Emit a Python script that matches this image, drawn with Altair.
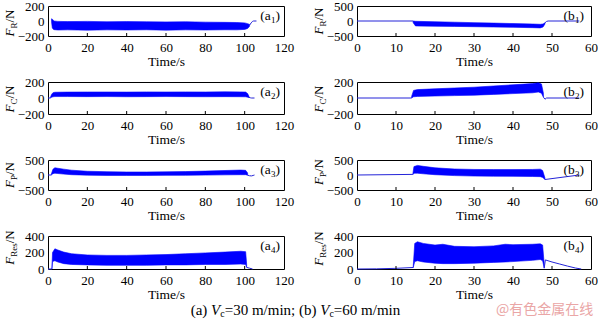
import altair as alt
import pandas as pd

# ---------------- axis tick values ----------------
X_TICKS_A = [0, 20, 40, 60, 80, 100, 120]
X_TICKS_B = [0, 10, 20, 30, 40, 50, 60]
Y_TICKS_200 = [-200, 0, 200]
Y_TICKS_500 = [-500, 0, 500]
Y_TICKS_400 = [0, 200, 400]

# ---------------- (a) Vc = 30 m/min ----------------
# a1: F_R
A1_BAND_T = [1.8, 2.2, 3.0, 5, 10, 20, 30, 40, 50, 60, 70, 80, 90, 96, 100, 101.5, 102.5]
A1_BAND_HI = [30, 25, 0, -5, -8, -5, -10, -8, -10, -12, -10, -15, -18, -20, -25, -35, -45]
A1_BAND_LO = [-10, -95, -115, -120, -118, -122, -118, -120, -117, -122, -118, -120, -117, -118, -112, -100, -70]
A1_LINE_T = [102.5, 103.3, 104, 104.5, 106]
A1_LINE_V = [-55, -25, -5, 0, 0]
A1_LINE_S = [1, 1, 1, 1, 1]

# a2: F_C
A2_BAND_T = [1.2, 1.8, 2.5, 3.5, 10, 20, 30, 40, 50, 60, 70, 80, 90, 98, 100.5, 101.5, 102.2]
A2_BAND_HI = [5, 45, 65, 72, 74, 75, 75, 74, 76, 75, 76, 75, 77, 76, 74, 55, 20]
A2_BAND_LO = [0, 8, 15, 18, 18, 17, 18, 16, 17, 18, 17, 16, 17, 16, 15, 10, 5]
A2_LINE_T = [0, 1.2, 102.2, 103, 103.5, 105]
A2_LINE_V = [0, 0, 8, 2, 0, 0]
A2_LINE_S = [0, 0, 1, 1, 1, 1]

# a3: F_P
A3_BAND_T = [1.7, 2.5, 3.5, 5, 8, 12, 20, 30, 40, 50, 60, 70, 80, 90, 98, 100.5, 101.5]
A3_BAND_HI = [30, 190, 240, 225, 195, 160, 125, 110, 100, 100, 105, 115, 130, 150, 165, 155, 70]
A3_BAND_LO = [0, 45, 60, 50, 30, 10, -5, -15, -15, -15, -12, -10, -3, 5, 10, 10, -10]
A3_LINE_T = [0, 1.7, 101.5, 102.5, 103.5, 104.3, 105]
A3_LINE_V = [0, 0, -5, -25, -30, -15, 0]
A3_LINE_S = [0, 0, 1, 1, 1, 1, 1]

# a4: F_Res
A4_BAND_T = [2.0, 2.3, 3.5, 5, 8, 12, 20, 30, 40, 50, 60, 70, 80, 90, 98, 100.5, 101]
A4_BAND_HI = [10, 200, 245, 230, 205, 185, 170, 165, 165, 170, 175, 185, 195, 205, 215, 210, 60]
A4_BAND_LO = [0, 90, 100, 85, 65, 55, 50, 45, 45, 45, 50, 50, 55, 55, 60, 55, 20]
A4_LINE_T = [0, 2.0, 101, 102.5, 104]
A4_LINE_V = [0, 0, 20, 10, 0]
A4_LINE_S = [0, 0, 1, 1, 1]

# ---------------- (b) Vc = 60 m/min ----------------
# b1: F_R
B1_BAND_T = [14.4, 15, 20, 25, 30, 35, 40, 45, 47, 47.7, 48.2]
B1_BAND_HI = [0, -10, -25, -40, -55, -70, -85, -100, -110, -100, -60]
B1_BAND_LO = [-60, -165, -175, -180, -190, -200, -210, -222, -230, -200, -100]
B1_LINE_T = [0, 14.4, 48.2, 48.6, 49, 57]
B1_LINE_V = [0, 0, -60, -15, 0, 0]
B1_LINE_S = [0, 0, 1, 1, 1, 1]

# b2: F_C
B2_BAND_T = [14, 14.5, 15.5, 20, 25, 30, 35, 40, 45, 46.5, 47.3, 47.8]
B2_BAND_HI = [20, 95, 105, 115, 125, 135, 150, 165, 180, 190, 175, 60]
B2_BAND_LO = [0, 15, 20, 25, 30, 35, 45, 55, 65, 75, 60, 10]
B2_LINE_T = [0, 14, 47.8, 48.2, 48.6, 57]
B2_LINE_V = [0, 0, 10, -15, 0, 0]
B2_LINE_S = [0, 0, 1, 1, 1, 1]

# b3: F_P
B3_BAND_T = [14.3, 14.6, 15.5, 17, 20, 25, 30, 35, 40, 45, 47, 47.6, 48.2]
B3_BAND_HI = [20, 280, 320, 290, 240, 200, 185, 180, 180, 185, 195, 150, -100]
B3_BAND_LO = [10, 60, 60, 40, 10, -20, -35, -40, -45, -50, -55, -80, -150]
B3_LINE_T = [0, 14.3, 48.2, 57]
B3_LINE_V = [0, 20, -150, 0]
B3_LINE_S = [0, 0, 1, 1]

# b4: F_Res
B4_BAND_T = [14.4, 14.8, 15.5, 17, 20, 22, 25, 30, 35, 38, 40, 45, 47, 47.6, 48]
B4_BAND_HI = [20, 310, 330, 310, 290, 300, 275, 270, 280, 300, 295, 300, 305, 290, 60]
B4_BAND_LO = [15, 90, 100, 85, 70, 65, 65, 70, 80, 85, 90, 105, 115, 100, 10]
B4_LINE_T = [0, 5, 10, 14.4, 48, 48.3, 50, 52, 54, 56, 57.5]
B4_LINE_V = [0, 2, 8, 18, 10, 110, 85, 60, 35, 12, 0]
B4_LINE_S = [0, 0, 0, 0, 1, 1, 1, 1, 1, 1, 1]

FONT = "Liberation Serif"
BLUE = "#0000ff"
LINE_BLUE = "#2424d8"
W_A, W_B = 236, 234
HEIGHTS = [30, 32, 30, 33]

ONE = pd.DataFrame({"k": [0]})


def txt(text, x, y, size=13, style="normal", align="left", angle=0, dx=0, dy=0,
        baseline="alphabetic", color="black", font=FONT):
    kw = dict(text=text, font=font, fontSize=size, fontStyle=style, align=align,
              baseline=baseline, color=color)
    if angle:
        kw["angle"] = angle
    if dx:
        kw["dx"] = dx
    if dy:
        kw["dy"] = dy
    return alt.Chart(ONE).mark_text(**kw).encode(x=alt.value(x), y=alt.value(y))


def panel(bt, bh, bl, lt, lv, ls, xdom, xticks, ydom, yticks, w, h,
          sub, sub_w, letter, num, lab_right, title_off, extra=()):
    xs = alt.Scale(domain=xdom, nice=False, zero=False)
    ys = alt.Scale(domain=ydom, nice=False, zero=False)
    xax = alt.Axis(values=xticks, title="Time/s", grid=False, ticks=False, domain=False,
                   labelPadding=5, titlePadding=0, labelFlush=False, labelOverlap=False)
    yax = alt.Axis(values=yticks, title=None, grid=False, ticks=False, domain=False,
                   labelPadding=4, labelOverlap=False)
    band = alt.Chart(pd.DataFrame({"t": bt, "hi": bh, "lo": bl})).mark_area(
        color=BLUE, stroke=BLUE, strokeWidth=0.6, opacity=1
    ).encode(x=alt.X("t:Q", scale=xs, axis=xax),
             y=alt.Y("hi:Q", scale=ys, axis=yax),
             y2=alt.Y2("lo"))
    line = alt.Chart(pd.DataFrame({"t": lt, "v": lv, "s": ls})).mark_line(
        color=LINE_BLUE, strokeWidth=1
    ).encode(x=alt.X("t:Q", scale=xs, axis=xax),
             y=alt.Y("v:Q", scale=ys, axis=yax),
             detail="s:N")
    ticks = alt.Chart(pd.DataFrame({"t": xticks[1:-1]})).mark_rule(
        color="black", strokeWidth=1
    ).encode(x=alt.X("t:Q", scale=xs, axis=xax), y=alt.value(h), y2=alt.value(h - 3))

    wF, wN = 7.9, 13.0
    total = wF + sub_w + wN
    yb = h / 2 + total / 2 + title_off
    tx = -34
    ytitle = [
        txt("F", tx, yb, style="italic", angle=270),
        txt(sub, tx, yb, size=9, angle=270, dx=wF, dy=2.5),
        txt("/N", tx, yb, angle=270, dx=wF + sub_w),
    ]
    rx = w - lab_right
    label = [
        txt(")", rx, 10, size=13.5, align="right", baseline="middle"),
        txt(num, rx - 4.5, 10, size=9, align="right", baseline="middle", dy=3.5),
        txt("(" + letter, rx - 9.2, 10, size=13.5, align="right", baseline="middle"),
    ]
    layers = [band, line, ticks] + ytitle + label + list(extra)
    return alt.layer(*layers).properties(width=w, height=h)


# caption pieces (left-bottom panel), watermark (right-bottom panel)
CAP_Y = 74
CS = 15            # caption font size
SS = 10            # subscript size
x0 = 142.7
w_a = 1.36 * CS
w_V = 0.611 * CS
w_c = 0.444 * SS
w_mid = 6.37 * CS
caption = [
    txt("(a) ", x0, CAP_Y, size=CS, baseline="middle"),
    txt("V", x0 + w_a, CAP_Y, size=CS, style="italic", baseline="middle"),
    txt("c", x0 + w_a + w_V, CAP_Y, size=SS, baseline="middle", dy=3.5),
    txt("=30 m/min; (b) ", x0 + w_a + w_V + w_c, CAP_Y, size=CS, baseline="middle"),
    txt("V", x0 + w_a + w_V + w_c + w_mid, CAP_Y, size=CS, style="italic", baseline="middle"),
    txt("c", x0 + w_a + 2 * w_V + w_c + w_mid, CAP_Y, size=SS, baseline="middle", dy=3.5),
    txt("=60 m/min", x0 + w_a + 2 * w_V + 2 * w_c + w_mid, CAP_Y, size=CS, baseline="middle"),
]
watermark = [
    txt("@有色金属在线", 139, CAP_Y, size=14, baseline="middle", color="#eaa6a6",
        font="Noto Sans CJK SC"),
]

a1 = panel(A1_BAND_T, A1_BAND_HI, A1_BAND_LO, A1_LINE_T, A1_LINE_V, A1_LINE_S,
           [0, 120], X_TICKS_A, [-200, 200], Y_TICKS_200, W_A, HEIGHTS[0],
           "R", 6.0, "a", "1", 4, 2)
b1 = panel(B1_BAND_T, B1_BAND_HI, B1_BAND_LO, B1_LINE_T, B1_LINE_V, B1_LINE_S,
           [0, 60], X_TICKS_B, [-500, 500], Y_TICKS_500, W_B, HEIGHTS[0],
           "R", 6.0, "b", "1", 7, 0)
a2 = panel(A2_BAND_T, A2_BAND_HI, A2_BAND_LO, A2_LINE_T, A2_LINE_V, A2_LINE_S,
           [0, 120], X_TICKS_A, [-200, 200], Y_TICKS_200, W_A, HEIGHTS[1],
           "C", 6.0, "a", "2", 4, 1)
b2 = panel(B2_BAND_T, B2_BAND_HI, B2_BAND_LO, B2_LINE_T, B2_LINE_V, B2_LINE_S,
           [0, 60], X_TICKS_B, [-200, 200], Y_TICKS_200, W_B, HEIGHTS[1],
           "C", 6.0, "b", "2", 7, 1)
a3 = panel(A3_BAND_T, A3_BAND_HI, A3_BAND_LO, A3_LINE_T, A3_LINE_V, A3_LINE_S,
           [0, 120], X_TICKS_A, [-500, 500], Y_TICKS_500, W_A, HEIGHTS[2],
           "P", 5.0, "a", "3", 4, 0)
b3 = panel(B3_BAND_T, B3_BAND_HI, B3_BAND_LO, B3_LINE_T, B3_LINE_V, B3_LINE_S,
           [0, 60], X_TICKS_B, [-500, 500], Y_TICKS_500, W_B, HEIGHTS[2],
           "P", 5.0, "b", "3", 7, -3)
a4 = panel(A4_BAND_T, A4_BAND_HI, A4_BAND_LO, A4_LINE_T, A4_LINE_V, A4_LINE_S,
           [0, 120], X_TICKS_A, [0, 400], Y_TICKS_400, W_A, HEIGHTS[3],
           "Res", 13.5, "a", "4", 4, -5, extra=caption)
b4 = panel(B4_BAND_T, B4_BAND_HI, B4_BAND_LO, B4_LINE_T, B4_LINE_V, B4_LINE_S,
           [0, 60], X_TICKS_B, [0, 400], Y_TICKS_400, W_B, HEIGHTS[3],
           "Res", 13.5, "b", "4", 7, -4, extra=watermark)

chart = alt.concat(
    a1, b1, a2, b2, a3, b3, a4, b4,
    columns=2,
    spacing={"row": 46, "column": 73},
    bounds="flush",
    align="each",
).configure_view(
    stroke="black", strokeWidth=1
).configure_axis(
    labelFont=FONT, titleFont=FONT, labelFontSize=13, titleFontSize=13.5,
    titleFontWeight="normal", labelColor="black", titleColor="black"
).properties(
    padding={"left": 3, "top": -1, "right": 0, "bottom": 0},
    background="white",
)

chart.save("out.html", embed_options={"renderer": "svg", "actions": False})
